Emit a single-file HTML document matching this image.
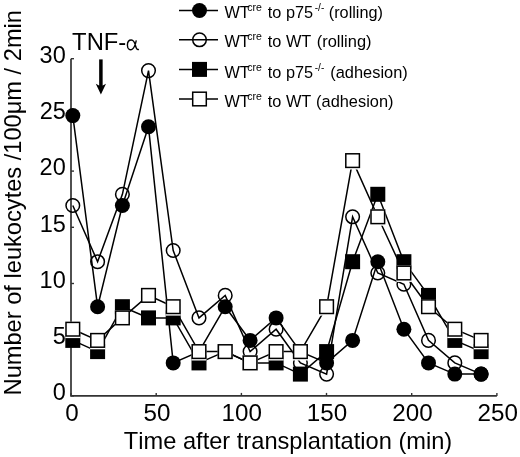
<!DOCTYPE html>
<html><head><meta charset="utf-8">
<style>
html,body{margin:0;padding:0;background:#fff;}
body{width:520px;height:457px;overflow:hidden;}
svg{display:block;filter:grayscale(100%);}
text{font-family:"Liberation Sans", sans-serif;fill:#000;font-kerning:none;}
</style></head>
<body>
<svg width="520" height="457" viewBox="0 0 520 457">
<rect width="520" height="457" fill="#fff"/>
<path d="M71.0,58.7 V395.9 H496.9" fill="none" stroke="#333" stroke-width="1.7"/>
<line x1="71.0" y1="395.9" x2="74.0" y2="395.9" stroke="#333" stroke-width="1.4"/>
<line x1="71.0" y1="339.7" x2="74.0" y2="339.7" stroke="#333" stroke-width="1.4"/>
<line x1="71.0" y1="283.5" x2="74.0" y2="283.5" stroke="#333" stroke-width="1.4"/>
<line x1="71.0" y1="227.3" x2="74.0" y2="227.3" stroke="#333" stroke-width="1.4"/>
<line x1="71.0" y1="171.1" x2="74.0" y2="171.1" stroke="#333" stroke-width="1.4"/>
<line x1="71.0" y1="114.9" x2="74.0" y2="114.9" stroke="#333" stroke-width="1.4"/>
<line x1="71.0" y1="58.7" x2="74.0" y2="58.7" stroke="#333" stroke-width="1.4"/>
<line x1="71.0" y1="395.9" x2="71.0" y2="392.9" stroke="#333" stroke-width="1.4"/>
<line x1="156.2" y1="395.9" x2="156.2" y2="392.9" stroke="#333" stroke-width="1.4"/>
<line x1="241.4" y1="395.9" x2="241.4" y2="392.9" stroke="#333" stroke-width="1.4"/>
<line x1="326.5" y1="395.9" x2="326.5" y2="392.9" stroke="#333" stroke-width="1.4"/>
<line x1="411.7" y1="395.9" x2="411.7" y2="392.9" stroke="#333" stroke-width="1.4"/>
<line x1="496.9" y1="395.9" x2="496.9" y2="392.9" stroke="#333" stroke-width="1.4"/>
<text transform="translate(52.65,400.20) scale(1.0000,1)" font-size="23.5">0</text>
<text transform="translate(52.72,344.00) scale(1.0000,1)" font-size="23.5">5</text>
<text transform="translate(39.58,287.80) scale(1.0000,1)" font-size="23.5">10</text>
<text transform="translate(39.65,231.60) scale(1.0000,1)" font-size="23.5">15</text>
<text transform="translate(39.58,175.40) scale(1.0000,1)" font-size="23.5">20</text>
<text transform="translate(39.65,119.20) scale(1.0000,1)" font-size="23.5">25</text>
<text transform="translate(39.58,63.00) scale(1.0000,1)" font-size="23.5">30</text>
<text transform="translate(65.17,420.50) scale(1.0300,1)" font-size="23.5">0</text>
<text transform="translate(143.61,420.50) scale(1.0300,1)" font-size="23.5">50</text>
<text transform="translate(221.62,420.50) scale(1.0300,1)" font-size="23.5">100</text>
<text transform="translate(306.80,420.50) scale(1.0300,1)" font-size="23.5">150</text>
<text transform="translate(392.29,420.50) scale(1.0300,1)" font-size="23.5">200</text>
<text transform="translate(477.47,420.50) scale(1.0300,1)" font-size="23.5">250</text>
<text transform="translate(123.87,448.70) scale(0.9851,1)" font-size="24">Time after transplantation (min)</text>
<text transform="translate(21.3,395.44) rotate(-90) scale(1.0025,1)" font-size="23.6">Number of leukocytes /100μm / 2min</text>
<text transform="translate(72.12,49.75) scale(1.0339,1)" font-size="23">TNF-</text>
<path d="M136.3,40.3 C135.5,44 134.5,47.5 132.5,49 C130.5,50.5 127.4,49.8 127.4,45.2 C127.4,41.5 129.5,40 131.3,40 C133.5,40 134.6,42 135.6,46 C136.4,49.2 137.2,50 138.9,49.3" fill="none" stroke="#000" stroke-width="1.4"/>
<line x1="100.9" y1="59.4" x2="100.9" y2="88" stroke="#000" stroke-width="3.5"/>
<path d="M95.8,83.8 L99.0,85.6 L102.8,85.6 L106.0,83.8 L100.9,94.6 Z" fill="#000"/>
<polyline points="72.8,205.5 97.6,261.7 122.4,194.3 148.5,70.6 173.2,250.5 199.0,317.9 225.2,295.4 250.1,351.6 276.1,329.2 300.4,362.9 326.6,374.1 352.6,216.8 377.8,273.0 403.9,284.2 428.5,340.4 454.8,362.9 481.1,374.1" fill="none" stroke="#000" stroke-width="1.5" stroke-linejoin="miter"/>
<circle cx="72.8" cy="205.5" r="6.8" fill="none" stroke="#000" stroke-width="1.5"/>
<circle cx="97.6" cy="261.7" r="6.8" fill="none" stroke="#000" stroke-width="1.5"/>
<circle cx="122.4" cy="194.3" r="6.8" fill="none" stroke="#000" stroke-width="1.5"/>
<circle cx="148.5" cy="70.6" r="6.8" fill="none" stroke="#000" stroke-width="1.5"/>
<circle cx="173.2" cy="250.5" r="6.8" fill="none" stroke="#000" stroke-width="1.5"/>
<circle cx="199.0" cy="317.9" r="6.8" fill="none" stroke="#000" stroke-width="1.5"/>
<circle cx="225.2" cy="295.4" r="6.8" fill="none" stroke="#000" stroke-width="1.5"/>
<circle cx="250.1" cy="351.6" r="6.8" fill="none" stroke="#000" stroke-width="1.5"/>
<circle cx="276.1" cy="329.2" r="6.8" fill="none" stroke="#000" stroke-width="1.5"/>
<circle cx="300.4" cy="362.9" r="6.8" fill="none" stroke="#000" stroke-width="1.5"/>
<circle cx="326.6" cy="374.1" r="6.8" fill="none" stroke="#000" stroke-width="1.5"/>
<circle cx="352.6" cy="216.8" r="6.8" fill="none" stroke="#000" stroke-width="1.5"/>
<circle cx="377.8" cy="273.0" r="6.8" fill="none" stroke="#000" stroke-width="1.5"/>
<circle cx="403.9" cy="284.2" r="6.8" fill="none" stroke="#000" stroke-width="1.5"/>
<circle cx="428.5" cy="340.4" r="6.8" fill="none" stroke="#000" stroke-width="1.5"/>
<circle cx="454.8" cy="362.9" r="6.8" fill="none" stroke="#000" stroke-width="1.5"/>
<circle cx="481.1" cy="374.1" r="6.8" fill="none" stroke="#000" stroke-width="1.5"/>
<polyline points="72.8,340.4 97.6,351.6 122.4,306.7 148.5,317.9 173.2,317.9 199.0,362.9 225.2,351.6 250.1,362.9 276.1,362.9 300.4,374.1 326.6,351.6 352.6,261.7 377.8,194.3 403.9,261.7 428.5,295.4 454.8,340.4 481.1,351.6" fill="none" stroke="#000" stroke-width="1.5" stroke-linejoin="miter"/>
<rect x="65.3" y="332.9" width="15" height="15" fill="#000"/>
<rect x="90.1" y="344.1" width="15" height="15" fill="#000"/>
<rect x="114.9" y="299.2" width="15" height="15" fill="#000"/>
<rect x="141.0" y="310.4" width="15" height="15" fill="#000"/>
<rect x="165.7" y="310.4" width="15" height="15" fill="#000"/>
<rect x="191.5" y="355.4" width="15" height="15" fill="#000"/>
<rect x="217.7" y="344.1" width="15" height="15" fill="#000"/>
<rect x="242.6" y="355.4" width="15" height="15" fill="#000"/>
<rect x="268.6" y="355.4" width="15" height="15" fill="#000"/>
<rect x="292.9" y="366.6" width="15" height="15" fill="#000"/>
<rect x="319.1" y="344.1" width="15" height="15" fill="#000"/>
<rect x="345.1" y="254.2" width="15" height="15" fill="#000"/>
<rect x="370.3" y="186.8" width="15" height="15" fill="#000"/>
<rect x="396.4" y="254.2" width="15" height="15" fill="#000"/>
<rect x="421.0" y="287.9" width="15" height="15" fill="#000"/>
<rect x="447.3" y="332.9" width="15" height="15" fill="#000"/>
<rect x="473.6" y="344.1" width="15" height="15" fill="#000"/>
<polyline points="72.8,115.6 97.6,306.7 122.4,205.5 148.5,126.8 173.2,362.9 199.0,351.6 225.2,306.7 250.1,340.4 276.1,317.9 300.4,351.6 326.6,362.9 352.6,340.4 377.8,261.7 403.9,329.2 428.5,362.9 454.8,374.1 481.1,374.1" fill="none" stroke="#000" stroke-width="1.5" stroke-linejoin="miter"/>
<circle cx="72.8" cy="115.6" r="7.5" fill="#000"/>
<circle cx="97.6" cy="306.7" r="7.5" fill="#000"/>
<circle cx="122.4" cy="205.5" r="7.5" fill="#000"/>
<circle cx="148.5" cy="126.8" r="7.5" fill="#000"/>
<circle cx="173.2" cy="362.9" r="7.5" fill="#000"/>
<circle cx="199.0" cy="351.6" r="7.5" fill="#000"/>
<circle cx="225.2" cy="306.7" r="7.5" fill="#000"/>
<circle cx="250.1" cy="340.4" r="7.5" fill="#000"/>
<circle cx="276.1" cy="317.9" r="7.5" fill="#000"/>
<circle cx="300.4" cy="351.6" r="7.5" fill="#000"/>
<circle cx="326.6" cy="362.9" r="7.5" fill="#000"/>
<circle cx="352.6" cy="340.4" r="7.5" fill="#000"/>
<circle cx="377.8" cy="261.7" r="7.5" fill="#000"/>
<circle cx="403.9" cy="329.2" r="7.5" fill="#000"/>
<circle cx="428.5" cy="362.9" r="7.5" fill="#000"/>
<circle cx="454.8" cy="374.1" r="7.5" fill="#000"/>
<circle cx="481.1" cy="374.1" r="7.5" fill="#000"/>
<polyline points="72.8,329.2 97.6,340.4 122.4,317.9 148.5,295.4 173.2,306.7 199.0,351.6 225.2,351.6 250.1,362.9 276.1,351.6 300.4,351.6 326.6,306.7 352.6,160.6 377.8,216.8 403.9,273.0 428.5,306.7 454.8,329.2 481.1,340.4" fill="none" stroke="#000" stroke-width="1.5" stroke-linejoin="miter"/>
<rect x="65.3" y="321.7" width="15" height="16.4" fill="#fff"/><rect x="66.0" y="322.4" width="13.6" height="13.6" fill="none" stroke="#000" stroke-width="1.5"/>
<rect x="90.1" y="332.9" width="15" height="16.4" fill="#fff"/><rect x="90.8" y="333.6" width="13.6" height="13.6" fill="none" stroke="#000" stroke-width="1.5"/>
<rect x="114.9" y="310.4" width="15" height="16.4" fill="#fff"/><rect x="115.6" y="311.1" width="13.6" height="13.6" fill="none" stroke="#000" stroke-width="1.5"/>
<rect x="141.0" y="287.9" width="15" height="16.4" fill="#fff"/><rect x="141.7" y="288.6" width="13.6" height="13.6" fill="none" stroke="#000" stroke-width="1.5"/>
<rect x="165.7" y="299.2" width="15" height="16.4" fill="#fff"/><rect x="166.4" y="299.9" width="13.6" height="13.6" fill="none" stroke="#000" stroke-width="1.5"/>
<rect x="191.5" y="344.1" width="15" height="16.4" fill="#fff"/><rect x="192.2" y="344.8" width="13.6" height="13.6" fill="none" stroke="#000" stroke-width="1.5"/>
<rect x="217.7" y="344.1" width="15" height="16.4" fill="#fff"/><rect x="218.4" y="344.8" width="13.6" height="13.6" fill="none" stroke="#000" stroke-width="1.5"/>
<rect x="242.6" y="355.4" width="15" height="16.4" fill="#fff"/><rect x="243.3" y="356.1" width="13.6" height="13.6" fill="none" stroke="#000" stroke-width="1.5"/>
<rect x="268.6" y="344.1" width="15" height="16.4" fill="#fff"/><rect x="269.3" y="344.8" width="13.6" height="13.6" fill="none" stroke="#000" stroke-width="1.5"/>
<rect x="292.9" y="344.1" width="15" height="16.4" fill="#fff"/><rect x="293.6" y="344.8" width="13.6" height="13.6" fill="none" stroke="#000" stroke-width="1.5"/>
<rect x="319.1" y="299.2" width="15" height="16.4" fill="#fff"/><rect x="319.8" y="299.9" width="13.6" height="13.6" fill="none" stroke="#000" stroke-width="1.5"/>
<rect x="345.1" y="153.1" width="15" height="16.4" fill="#fff"/><rect x="345.8" y="153.8" width="13.6" height="13.6" fill="none" stroke="#000" stroke-width="1.5"/>
<rect x="370.3" y="209.3" width="15" height="16.4" fill="#fff"/><rect x="371.0" y="210.0" width="13.6" height="13.6" fill="none" stroke="#000" stroke-width="1.5"/>
<rect x="396.4" y="265.5" width="15" height="16.4" fill="#fff"/><rect x="397.1" y="266.2" width="13.6" height="13.6" fill="none" stroke="#000" stroke-width="1.5"/>
<rect x="421.0" y="299.2" width="15" height="16.4" fill="#fff"/><rect x="421.7" y="299.9" width="13.6" height="13.6" fill="none" stroke="#000" stroke-width="1.5"/>
<rect x="447.3" y="321.7" width="15" height="16.4" fill="#fff"/><rect x="448.0" y="322.4" width="13.6" height="13.6" fill="none" stroke="#000" stroke-width="1.5"/>
<rect x="473.6" y="332.9" width="15" height="16.4" fill="#fff"/><rect x="474.3" y="333.6" width="13.6" height="13.6" fill="none" stroke="#000" stroke-width="1.5"/>
<line x1="179" y1="10.5" x2="218" y2="10.5" stroke="#000" stroke-width="1.5"/>
<circle cx="199.5" cy="10.5" r="7.5" fill="#000"/>
<text transform="translate(224.43,18.30) scale(0.9600,1)" font-size="17">WT</text>
<text transform="translate(247.25,11.10) scale(0.9600,1)" font-size="11">cre</text>
<text transform="translate(267.75,18.30) scale(0.9600,1)" font-size="17">to p75</text>
<text transform="translate(314.75,11.10) scale(1.0059,1)" font-size="10">-/-</text>
<text transform="translate(328.79,18.30) scale(0.9566,1)" font-size="17">(rolling)</text>
<line x1="179" y1="39.8" x2="218" y2="39.8" stroke="#000" stroke-width="1.5"/>
<circle cx="199.5" cy="39.8" r="6.8" fill="none" stroke="#000" stroke-width="1.5"/>
<text transform="translate(224.43,47.40) scale(0.9600,1)" font-size="17">WT</text>
<text transform="translate(247.25,40.20) scale(0.9600,1)" font-size="11">cre</text>
<text transform="translate(267.75,47.40) scale(0.9600,1)" font-size="17">to WT</text>
<text transform="translate(316.68,47.40) scale(0.9676,1)" font-size="17">(rolling)</text>
<line x1="179" y1="69.4" x2="218" y2="69.4" stroke="#000" stroke-width="1.5"/>
<rect x="192.0" y="61.9" width="15" height="15" fill="#000"/>
<text transform="translate(224.43,77.90) scale(0.9600,1)" font-size="17">WT</text>
<text transform="translate(247.25,70.70) scale(0.9600,1)" font-size="11">cre</text>
<text transform="translate(267.75,77.90) scale(0.9600,1)" font-size="17">to p75</text>
<text transform="translate(314.75,70.70) scale(1.0059,1)" font-size="10">-/-</text>
<text transform="translate(330.28,77.90) scale(0.9652,1)" font-size="17">(adhesion)</text>
<line x1="179" y1="99.0" x2="218" y2="99.0" stroke="#000" stroke-width="1.5"/>
<rect x="192.0" y="91.5" width="15" height="16.4" fill="#fff"/><rect x="192.7" y="92.2" width="13.6" height="13.6" fill="none" stroke="#000" stroke-width="1.5"/>
<text transform="translate(224.43,107.00) scale(0.9600,1)" font-size="17">WT</text>
<text transform="translate(247.25,99.80) scale(0.9600,1)" font-size="11">cre</text>
<text transform="translate(267.75,107.00) scale(0.9600,1)" font-size="17">to WT</text>
<text transform="translate(316.08,107.00) scale(0.9640,1)" font-size="17">(adhesion)</text>
</svg>
</body></html>
